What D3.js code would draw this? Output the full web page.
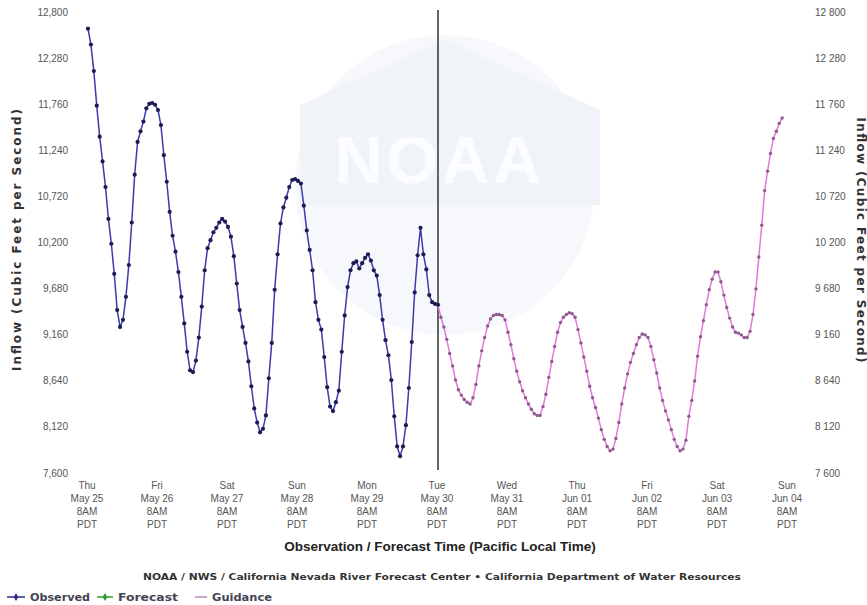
<!DOCTYPE html>
<html>
<head>
<meta charset="utf-8">
<script src="https://cdn.jsdelivr.net/npm/d3@7"></script>
<style>
  body { margin: 0; background: #fff; }
  svg { font-family: Arial, "Liberation Sans", sans-serif; }
  .wide { font-family: "DejaVu Sans", Verdana, sans-serif; }
</style>
</head>
<body>
<div id="chart"></div>
<script>
// hourly values starting Thu May 25 8AM PDT
const observed = [12620,12440,12140,11750,11400,11120,10830,10470,10190,9850,
  9440,9250,9330,9590,9950,10430,10970,11340,11460,11570,
  11720,11770,11780,11760,11700,11530,11190,10890,10550,10280,
  10100,9870,9590,9290,8970,8760,8740,8870,9130,9480,
  9890,10140,10230,10320,10370,10430,10470,10440,10380,10270,
  10050,9740,9440,9250,9070,8860,8580,8330,8170,8060,
  8100,8250,8670,9070,9670,10070,10420,10600,10710,10830,
  10910,10920,10900,10870,10620,10340,10120,9890,9530,9330,
  9220,8910,8570,8350,8300,8400,8530,8970,9380,9700,
  9890,9970,9990,9910,9970,10030,10070,10000,9890,9830,
  9610,9330,9100,8930,8650,8240,7900,7790,7900,8140,
  8560,9080,9640,10060,10370,10070,9900,9610,9530,9510,
  9500];

// guidance, hourly from Tue May 30 8AM PDT
const guidance = [9500,9360,9250,9110,8950,8810,8650,8540,8480,8430,
  8400,8380,8450,8600,8810,8980,9130,9260,9340,9380,
  9390,9390,9380,9330,9190,9050,8890,8750,8630,8530,
  8450,8380,8320,8270,8250,8250,8350,8490,8680,8860,
  9030,9190,9300,9360,9390,9410,9400,9360,9220,9070,
  8910,8750,8580,8450,8340,8220,8090,7980,7900,7850,
  7870,7990,8170,8380,8560,8720,8850,8950,9050,9130,
  9170,9160,9130,9030,8880,8730,8560,8420,8300,8200,
  8090,7980,7900,7850,7870,7970,8240,8420,8640,8920,
  9140,9320,9500,9670,9790,9870,9870,9760,9610,9470,
  9350,9250,9190,9180,9160,9130,9130,9200,9390,9680,
  10040,10400,10790,11010,11210,11380,11460,11550,11610];

const dayNames = ['Thu','Fri','Sat','Sun','Mon','Tue','Wed','Thu','Fri','Sat','Sun'];
const dayDates = ['May 25','May 26','May 27','May 28','May 29','May 30','May 31','Jun 01','Jun 02','Jun 03','Jun 04'];
const yTicks = [7600,8120,8640,9160,9680,10200,10720,11240,11760,12280,12800];
const guidanceStart = 120; // hour offset of first guidance value
const nowHour = 120;

const width = 867, height = 605;
const svg = d3.select('#chart').append('svg')
  .attr('width', width)
  .attr('height', height);

const x = d3.scaleLinear().domain([0, 240]).range([88, 788]);
const y = d3.scaleLinear().domain([7600, 12800]).range([473, 12.7]);

// NOAA watermark (faint)
const wm = svg.append('g').attr('class', 'watermark');
wm.append('circle').attr('cx', 445).attr('cy', 185).attr('r', 150).attr('fill', '#f7f8fb');
wm.append('path')
  .attr('d', 'M300,105 L445,40 L600,110 L600,205 L300,205 Z')
  .attr('fill', '#f0f3f8');
wm.append('text')
  .attr('x', 440).attr('y', 183)
  .attr('text-anchor', 'middle')
  .attr('font-size', 66).attr('font-weight', 'bold')
  .attr('letter-spacing', 4)
  .attr('fill', '#fcfdfe')
  .text('NOAA');

// left and right y labels
const fmtL = d3.format(',');
const fmtR = v => d3.format(',')(v).replace(',', ' ');
svg.append('g').selectAll('text').data(yTicks).join('text')
  .attr('x', 68).attr('y', d => y(d)).attr('dy', '0.35em')
  .attr('text-anchor', 'end')
  .attr('font-size', 10).attr('fill', '#555')
  .text(fmtL);
svg.append('g').selectAll('text').data(yTicks).join('text')
  .attr('x', 815).attr('y', d => y(d)).attr('dy', '0.35em')
  .attr('text-anchor', 'start')
  .attr('font-size', 10).attr('fill', '#555')
  .text(fmtR);

// x tick labels (4 lines)
const xt = svg.append('g').selectAll('text').data(dayNames).join('text')
  .attr('text-anchor', 'middle')
  .attr('font-size', 10).attr('fill', '#555')
  .attr('y', 489);
xt.each(function(d, i) {
  const t = d3.select(this);
  const cx = x(i * 24) - 1;
  [d, dayDates[i], '8AM', 'PDT'].forEach((s, j) => {
    t.append('tspan').attr('x', cx).attr('dy', j === 0 ? 0 : 13).text(s);
  });
});

// axis titles
svg.append('text').attr('class', 'wide')
  .attr('transform', 'translate(21,240) rotate(-90)')
  .attr('text-anchor', 'middle')
  .attr('font-size', 12).attr('font-weight', 'bold').attr('fill', '#333')
  .attr('textLength', 262).attr('lengthAdjust', 'spacing')
  .text('Inflow (Cubic Feet per Second)');
svg.append('text').attr('class', 'wide')
  .attr('transform', 'translate(857,240) rotate(90)')
  .attr('text-anchor', 'middle')
  .attr('font-size', 12).attr('font-weight', 'bold').attr('fill', '#333')
  .attr('textLength', 245).attr('lengthAdjust', 'spacing')
  .text('Inflow (Cubic Feet per Second)');
svg.append('text')
  .attr('x', 440).attr('y', 551)
  .attr('text-anchor', 'middle')
  .attr('font-size', 13.5).attr('font-weight', 'bold').attr('fill', '#222')
  .text('Observation / Forecast Time (Pacific Local Time)');
svg.append('text').attr('class', 'wide')
  .attr('x', 442).attr('y', 580)
  .attr('text-anchor', 'middle')
  .attr('font-size', 9.5).attr('font-weight', 'bold').attr('fill', '#333')
  .attr('textLength', 598).attr('lengthAdjust', 'spacingAndGlyphs')
  .text('NOAA / NWS / California Nevada River Forecast Center  \u2022  California Department of Water Resources');

// current time line
svg.append('line')
  .attr('x1', x(nowHour)).attr('x2', x(nowHour))
  .attr('y1', 10).attr('y2', 470)
  .attr('stroke', '#333').attr('stroke-width', 1.5);

// guidance series
const gData = guidance.map((v, i) => ({h: guidanceStart + i, v}));
const line = d3.line().x(d => x(d.h)).y(d => y(d.v));
svg.append('path').datum(gData)
  .attr('d', line)
  .attr('fill', 'none')
  .attr('stroke', '#e07ade').attr('stroke-width', 1.5);
svg.append('g').selectAll('circle').data(gData).join('circle')
  .attr('cx', d => x(d.h)).attr('cy', d => y(d.v))
  .attr('r', 1.7)
  .attr('fill', '#8e5a8e');

// observed series
const oData = observed.map((v, i) => ({h: i, v}));
svg.append('path').datum(oData)
  .attr('d', line)
  .attr('fill', 'none')
  .attr('stroke', '#3b3bab').attr('stroke-width', 1.5);
svg.append('g').selectAll('circle').data(oData).join('circle')
  .attr('cx', d => x(d.h)).attr('cy', d => y(d.v))
  .attr('r', 2.1)
  .attr('fill', '#1d1d55');

// legend
const legendItems = [
  {name: 'Observed', color: '#2a2a8a', x: 7, len: 18, marker: true},
  {name: 'Forecast', color: '#2e9a2e', x: 97, len: 16, marker: true},
  {name: 'Guidance', color: '#b58ab5', x: 195, len: 12, marker: false}
];
const lg = svg.append('g').attr('transform', 'translate(0,597)');
legendItems.forEach(it => {
  lg.append('line')
    .attr('x1', it.x).attr('x2', it.x + it.len)
    .attr('y1', 0).attr('y2', 0)
    .attr('stroke', it.color).attr('stroke-width', 1.5);
  if (it.marker) {
    lg.append('path')
      .attr('d', d3.symbol().type(d3.symbolDiamond).size(18)())
      .attr('transform', `translate(${it.x + it.len / 2},0)`)
      .attr('fill', it.color);
  }
  lg.append('text').attr('class', 'wide')
    .attr('x', it.x + it.len + 5).attr('y', 0).attr('dy', '0.35em')
    .attr('font-size', 10).attr('font-weight', 'bold').attr('fill', '#445')
    .attr('textLength', 60).attr('lengthAdjust', 'spacingAndGlyphs')
    .text(it.name);
});
</script>
</body>
</html>
